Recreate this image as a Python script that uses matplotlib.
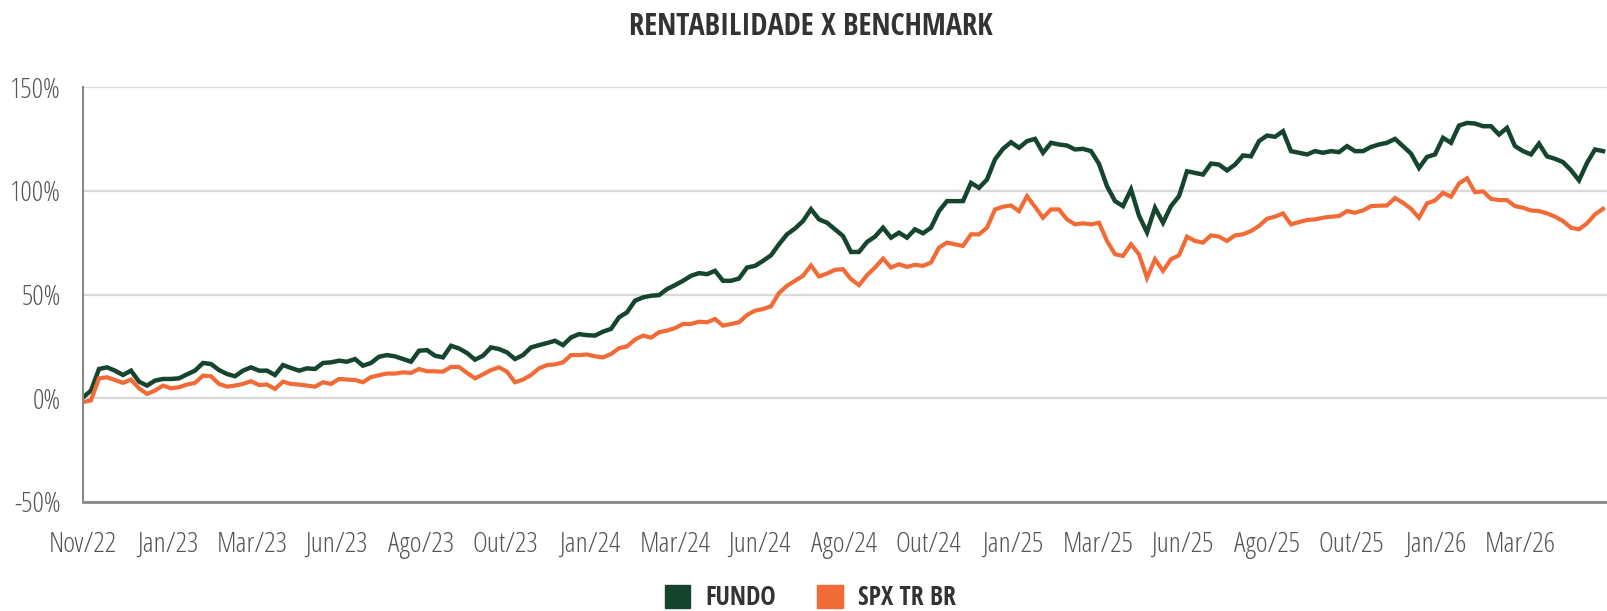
import numpy as np
import matplotlib
matplotlib.use("Agg")
import matplotlib.pyplot as plt
from matplotlib.patches import Patch
from matplotlib import font_manager

# cumulative return (%), one reading every ~8 px of the original chart
fundo = [
    0.4, 3.7, 14.1, 14.9, 13.3, 11.2, 13.3, 8.0, 6.1, 8.5, 9.3, 9.3, 9.6, 11.5, 13.3,
    17.0, 16.5, 13.6, 11.7, 10.6, 13.3, 14.9, 13.3, 13.3, 11.2, 16.0, 14.6, 13.3, 14.4,
    14.1, 17.0, 17.3, 18.1,
    17.6, 18.9, 15.7, 17.0, 20.0, 20.8, 20.2, 18.9, 17.6, 22.9, 23.2, 20.5, 19.7, 25.3,
    24.0, 21.8, 18.6, 20.5, 24.5, 23.7, 22.1, 18.9, 20.8, 24.5, 25.6, 26.6, 27.7, 25.6,
    29.3, 30.9, 30.4,
    30.2, 32.1, 33.4, 39.0, 41.4, 47.0, 48.6, 49.4, 49.7, 52.6, 54.5, 56.6, 59.0, 60.3,
    59.8, 61.4, 56.6, 56.6, 57.7, 63.0, 63.8, 66.2, 68.9, 74.2, 79.0, 81.8, 85.4, 91.1,
    86.2, 84.6, 81.4, 78.2,
    70.5, 70.5, 75.3, 77.9, 82.2, 77.4, 79.8, 77.4, 81.4, 79.5, 82.2, 90.2, 95.0, 95.0,
    95.0, 103.8, 101.4, 105.4, 115.1, 120.2, 123.4, 120.7, 123.9, 125.0, 118.3, 123.1,
    122.3, 121.8, 119.9, 120.2, 119.1, 113.0,
    102.2, 95.0, 92.6, 100.6, 88.0, 80.0, 91.8, 84.6, 92.6, 97.4, 109.4, 108.6, 107.8,
    113.1, 112.6, 109.8, 112.6, 117.0, 116.6, 123.9, 126.6, 126.0, 128.7, 119.1, 118.3,
    117.5, 119.1, 118.3, 119.1, 118.6, 121.5, 119.1,
    119.1, 121.1, 122.3, 123.1, 125.0, 121.5, 117.9, 111.0, 116.3, 117.5, 125.5, 123.1,
    131.4, 132.7, 132.4, 131.1, 131.1, 127.1, 130.3, 121.5, 119.1, 117.5, 122.7, 116.6,
    115.4, 113.8, 109.9, 105.0, 113.4, 119.9, 119.1,
]

spx_tr_br = [
    -1.9, -1.0, 9.6, 10.1, 8.8, 7.4, 9.0, 4.8, 2.1, 3.7, 6.1, 4.8, 5.3, 6.6, 7.4, 10.9,
    10.6, 6.9, 5.6, 6.1, 6.9, 8.2, 6.4, 6.6, 4.5, 8.0, 6.9, 6.6, 6.1, 5.6, 7.7, 6.9, 9.3,
    9.0, 8.8, 7.7, 10.2, 11.1, 11.9, 11.9, 12.5, 12.2, 14.1, 13.0, 13.0, 12.8, 15.1, 15.1,
    12.2, 9.6, 11.5, 13.6, 14.9, 12.8, 7.7, 9.0, 11.2, 14.4, 16.0, 16.3, 17.3, 20.8, 20.8,
    21.1,
    20.2, 19.7, 21.3, 24.1, 25.0, 28.3, 30.2, 29.2, 31.8, 32.6, 33.8, 35.8, 35.8, 36.9,
    36.6, 38.2, 35.0, 35.8, 36.6, 40.1, 42.2, 43.0, 44.3, 50.7, 54.2, 56.6, 59.0, 64.0,
    58.7, 60.1, 61.9, 62.2,
    57.4, 54.5, 59.3, 63.0, 67.3, 63.0, 64.6, 63.3, 64.3, 63.8, 65.4, 72.6, 75.0, 74.2,
    73.4, 79.0, 79.0, 82.2, 91.0, 92.3, 92.9, 90.2, 97.4, 92.3, 87.0, 91.0, 91.0, 86.2,
    83.8, 84.3, 83.8, 84.6,
    75.8, 69.4, 68.6, 74.2, 69.4, 58.0, 67.0, 61.4, 67.0, 68.9, 77.9, 75.8, 75.0, 78.5,
    77.9, 75.8, 78.5, 79.0, 80.6, 83.0, 86.5, 87.5, 89.1, 83.8, 84.9, 85.9, 86.2, 87.0,
    87.5, 87.8, 90.2, 89.4,
    90.5, 92.6, 92.8, 92.9, 96.5, 94.2, 91.3, 87.0, 93.9, 95.3, 99.0, 97.1, 103.5, 106.0,
    99.3, 99.7, 96.1, 95.5, 95.5, 92.6, 91.8, 90.5, 90.2, 89.1, 87.5, 85.4, 82.2, 81.4,
    84.3, 88.6, 91.3,
]

month_labels = ["Nov/22", "Jan/23", "Mar/23", "Jun/23", "Ago/23", "Out/23",
                "Jan/24", "Mar/24", "Jun/24", "Ago/24", "Out/24",
                "Jan/25", "Mar/25", "Jun/25", "Ago/25", "Out/25",
                "Jan/26", "Mar/26"]
y_ticks = [-50, 0, 50, 100, 150]

GREEN = "#16452f"
ORANGE = "#f26a36"
TEXT = "#555555"


def condensed_font(weight):
    """Open Sans Condensed at the given weight, if installed."""
    for f in font_manager.fontManager.ttflist:
        if f.name.startswith("Open Sans") and f.stretch == "condensed" and f.weight == weight:
            return font_manager.FontProperties(fname=f.fname)
    return font_manager.FontProperties(family="DejaVu Sans",
                                       weight="bold" if weight >= 600 else "normal")


light = condensed_font(300)
bold = condensed_font(700)

fig = plt.figure(figsize=(16.08, 6.11), dpi=100)
ax = fig.add_axes([83 / 1608, 109 / 611, 1 - 83 / 1608, 415 / 611])

x = np.arange(len(fundo))
ax.plot(x, fundo, color=GREEN, lw=3.2, solid_joinstyle="miter")
ax.plot(x, spx_tr_br, color=ORANGE, lw=3.0, solid_joinstyle="miter")

# one month label every ~10.6 samples
tick_step = 10.57
ax.set_xticks(np.arange(len(month_labels)) * tick_step)
ax.set_xticklabels(month_labels)
ax.set_xlim(0, 1525 / 8)

ax.set_ylim(-50, 150)
ax.set_yticks(y_ticks)
ax.set_yticklabels([f"{v}%" for v in y_ticks])
ax.yaxis.grid(True, color="#d9d9d9", lw=1.6)
ax.set_axisbelow(True)

for side in ["top", "right"]:
    ax.spines[side].set_visible(False)
ax.spines["left"].set_color("#8a8a8a")
ax.spines["left"].set_linewidth(1.5)
ax.spines["bottom"].set_color("#8a8a8a")
ax.spines["bottom"].set_linewidth(2)

ax.tick_params(axis="both", length=0, labelcolor=TEXT)
ax.tick_params(axis="y", pad=16)
ax.tick_params(axis="x", pad=21)
for lab in ax.get_xticklabels() + ax.get_yticklabels():
    lab.set_fontproperties(light)
    lab.set_fontsize(20.5)

fig.text(0.504, 0.955, "RENTABILIDADE X BENCHMARK", ha="center", va="center",
         fontproperties=bold, fontsize=22, color="#333333")

handles = [Patch(color=GREEN, label="FUNDO"), Patch(color=ORANGE, label="SPX TR BR")]
leg_font = bold.copy()
leg_font.set_size(18.5)
leg = fig.legend(handles=handles, loc="center", bbox_to_anchor=(0.504, 0.022), ncol=2,
                 frameon=False, handlelength=1.0, handleheight=1.0,
                 handletextpad=0.6, columnspacing=1.6, prop=leg_font)
for t in leg.get_texts():
    t.set_color("#333333")

fig.savefig("out.png", dpi=100)
